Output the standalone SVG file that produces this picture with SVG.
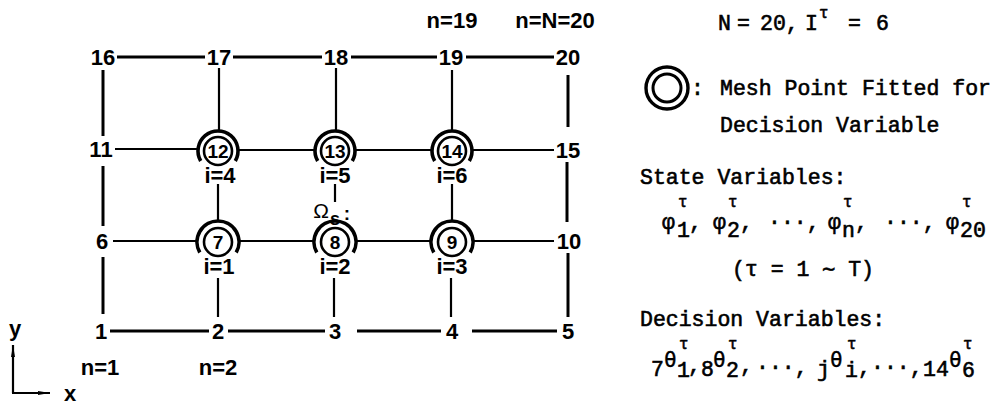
<svg xmlns="http://www.w3.org/2000/svg" width="995" height="405" viewBox="0 0 995 405">
<defs>
<style>
.bg{fill:#fff}
.ln{stroke:#000;stroke-width:2.2;fill:none;stroke-linecap:butt}
.lt{stroke:#000;stroke-width:3;fill:none}
.lbl{font-family:"Liberation Sans",Arial,sans-serif;font-size:22px;font-weight:bold;text-anchor:middle;fill:#000}
.in{font-family:"Liberation Sans",Arial,sans-serif;font-size:19px;font-weight:bold;text-anchor:middle;fill:#000}
.ring{stroke:#000;stroke-width:3.6;fill:none}
.iring{stroke:#000;stroke-width:2.6;fill:none}
.mono{font-family:"Liberation Mono","Courier New",monospace;font-size:21.5px;fill:#000;stroke:#000;stroke-width:0.6}
.sup{font-family:"Liberation Mono","Courier New",monospace;font-size:16px;fill:#000;stroke:#000;stroke-width:0.5}
.th{font-family:"DejaVu Sans Mono",monospace;font-size:21px;fill:#000;stroke:#000;stroke-width:0.4}
</style>
<marker id="ah" viewBox="0 0 12 6" refX="12" refY="3" markerWidth="12" markerHeight="6" markerUnits="userSpaceOnUse" orient="auto">
<path d="M0,1 L12,3 L0,5 Z" fill="#000"/>
</marker>
</defs>
<rect class="bg" x="0" y="0" width="995" height="405"/>

<g id="connectors">
<line class="lt" x1="117" y1="57" x2="205" y2="57"/>
<line class="lt" x1="233" y1="57" x2="322" y2="57"/>
<line class="lt" x1="351" y1="57" x2="437" y2="57"/>
<line class="lt" x1="466" y1="57" x2="554" y2="57"/>
<line class="ln" x1="115" y1="149" x2="197" y2="149"/>
<line class="ln" x1="238" y1="150" x2="315" y2="150"/>
<line class="ln" x1="355" y1="150" x2="432" y2="150"/>
<line class="ln" x1="472" y1="150" x2="554" y2="150"/>
<line class="ln" x1="113" y1="241" x2="197" y2="241"/>
<line class="ln" x1="239" y1="241" x2="314" y2="241"/>
<line class="ln" x1="356" y1="241" x2="431" y2="241"/>
<line class="ln" x1="473" y1="241" x2="554" y2="241"/>
<line class="lt" x1="110" y1="331" x2="209" y2="331"/>
<line class="lt" x1="228" y1="331" x2="325" y2="331"/>
<line class="lt" x1="357" y1="331" x2="441" y2="331"/>
<line class="lt" x1="472" y1="331" x2="557" y2="331"/>
<line class="lt" x1="103" y1="70" x2="103" y2="136"/>
<line class="lt" x1="103" y1="166" x2="103" y2="226"/>
<line class="lt" x1="103" y1="257" x2="103" y2="314"/>
<line class="ln" x1="219" y1="68" x2="219" y2="131"/>
<line class="ln" x1="218" y1="184" x2="218" y2="221"/>
<line class="ln" x1="218" y1="278" x2="218" y2="317"/>
<line class="ln" x1="336" y1="68" x2="336" y2="131"/>
<line class="ln" x1="335" y1="184" x2="335" y2="202"/>
<line class="ln" x1="334" y1="278" x2="334" y2="317"/>
<line class="ln" x1="452" y1="70" x2="452" y2="130"/>
<line class="ln" x1="452" y1="184" x2="452" y2="220"/>
<line class="ln" x1="451" y1="278" x2="451" y2="317"/>
<line class="lt" x1="568" y1="75" x2="568" y2="127"/>
<line class="lt" x1="567" y1="162" x2="567" y2="222"/>
<line class="lt" x1="568" y1="253" x2="568" y2="317"/>
</g>

<g id="n1"><text class="lbl" x="101" y="339">1</text></g>
<g id="n2"><text class="lbl" x="218" y="339">2</text></g>
<g id="n3"><text class="lbl" x="335" y="339">3</text></g>
<g id="n4"><text class="lbl" x="452" y="339">4</text></g>
<g id="n5"><text class="lbl" x="568" y="339">5</text></g>
<g id="n6"><text class="lbl" x="102" y="249">6</text></g>
<g id="n10"><text class="lbl" x="569" y="249">10</text></g>
<g id="n11"><text class="lbl" x="101" y="157">11</text></g>
<g id="n15"><text class="lbl" x="568" y="158">15</text></g>
<g id="n16"><text class="lbl" x="103" y="65">16</text></g>
<g id="n17"><text class="lbl" x="219" y="65">17</text></g>
<g id="n18"><text class="lbl" x="336" y="65">18</text></g>
<g id="n19"><text class="lbl" x="451" y="65">19</text></g>
<g id="n20"><text class="lbl" x="568" y="65">20</text></g>

<g id="n7">
<path class="ring" d="M199.8,252.5 A21,21 0 1 1 236.2,252.5"/>
<circle class="iring" cx="218" cy="242" r="14"/>
<text class="in" x="218" y="249">7</text>
<text class="lbl" x="219" y="274">i=1</text>
</g>
<g id="n8">
<path class="ring" d="M316.8,252.5 A21,21 0 1 1 353.2,252.5"/>
<circle class="iring" cx="335" cy="242" r="14"/>
<text class="in" x="335" y="249">8</text>
<text class="lbl" x="335" y="274">i=2</text>
</g>
<g id="n9">
<path class="ring" d="M433.8,252.5 A21,21 0 1 1 470.2,252.5"/>
<circle class="iring" cx="452" cy="242" r="14"/>
<text class="in" x="452" y="249">9</text>
<text class="lbl" x="452" y="274">i=3</text>
</g>
<g id="n12">
<path class="ring" d="M200.7,161 A20,20 0 1 1 235.3,161"/>
<circle class="iring" cx="218" cy="151" r="14"/>
<text class="in" x="218" y="158">12</text>
<text class="lbl" x="220" y="183">i=4</text>
</g>
<g id="n13">
<path class="ring" d="M317.7,161 A20,20 0 1 1 352.3,161"/>
<circle class="iring" cx="335" cy="151" r="14"/>
<text class="in" x="335" y="158">13</text>
<text class="lbl" x="335" y="183">i=5</text>
</g>
<g id="n14">
<path class="ring" d="M434.7,161 A20,20 0 1 1 469.3,161"/>
<circle class="iring" cx="452" cy="151" r="14"/>
<text class="in" x="452" y="158">14</text>
<text class="lbl" x="452" y="183">i=6</text>
</g>

<g id="omega">
<text class="lbl" x="321" y="218" style="font-size:21px;font-weight:normal">Ω</text>
<text class="lbl" x="335" y="225" style="font-size:18px">s</text>
<text class="lbl" x="347" y="220" style="font-size:19px">:</text>
</g>

<g id="n-labels">
<text class="lbl" x="452" y="28">n=19</text>
<text class="lbl" x="555" y="28">n=N=20</text>
<text class="lbl" x="100" y="375">n=1</text>
<text class="lbl" x="218" y="375">n=2</text>
</g>

<g id="axes">
<line class="ln" x1="13" y1="393" x2="13" y2="345" marker-end="url(#ah)"/>
<line class="ln" x1="12" y1="393" x2="50" y2="393" marker-end="url(#ah)"/>
<text class="lbl" x="15" y="336">y</text>
<text class="lbl" x="70" y="401">x</text>
</g>

<g id="legend">
<text class="mono" x="718" y="30">N</text>
<text class="mono" x="737" y="30">=</text>
<text class="mono" x="760" y="30">20,</text>
<text class="mono" x="805" y="30">I</text>
<text class="sup" x="819" y="18">τ</text>
<text class="mono" x="848" y="30">=</text>
<text class="mono" x="876" y="30">6</text>

<circle cx="667" cy="88" r="21" stroke="#000" stroke-width="3.4" fill="none"/>
<circle cx="667" cy="88" r="14" stroke="#000" stroke-width="3" fill="none"/>
<text class="mono" x="691" y="95">:</text>
<text class="mono" x="720" y="95">Mesh Point Fitted for</text>
<text class="mono" x="720" y="132">Decision Variable</text>

<text class="mono" x="640" y="184">State Variables:</text>
<text class="mono" x="662" y="229">φ</text><text class="sup" x="678" y="207">τ</text><text class="mono" x="677" y="237">1</text><text class="mono" x="689" y="229">,</text>
<text class="mono" x="713" y="229">φ</text><text class="sup" x="728" y="207">τ</text><text class="mono" x="727" y="237">2</text><text class="mono" x="740" y="229">,</text>
<text class="mono" x="768" y="229">···,</text>
<text class="mono" x="828" y="229">φ</text><text class="sup" x="843" y="207">τ</text><text class="mono" x="842" y="237">n</text><text class="mono" x="855" y="229">,</text>
<text class="mono" x="884" y="229">···,</text>
<text class="mono" x="946" y="229">φ</text><text class="sup" x="962" y="207">τ</text><text class="mono" x="960" y="237">20</text>
<text class="mono" x="732" y="276">(τ = 1 ∼ T)</text>

<text class="mono" x="640" y="326">Decision Variables:</text>
<text class="mono" x="651" y="376">7</text><text class="th" x="664" y="367">θ</text><text class="sup" x="679" y="349">τ</text><text class="mono" x="677" y="377">1</text><text class="mono" x="688" y="372">,</text>
<text class="mono" x="701" y="376">8</text><text class="th" x="713" y="367">θ</text><text class="sup" x="728" y="349">τ</text><text class="mono" x="726" y="377">2</text><text class="mono" x="740" y="372">,</text>
<text class="mono" x="756" y="374">···,</text>
<text class="mono" x="817" y="376">j</text><text class="th" x="830" y="367">θ</text><text class="sup" x="847" y="349">τ</text><text class="mono" x="845" y="377">i</text><text class="mono" x="858" y="374">,</text>
<text class="mono" x="871" y="374">···,</text>
<text class="mono" x="923" y="376">14</text><text class="th" x="949" y="367">θ</text><text class="sup" x="963" y="349">τ</text><text class="mono" x="962" y="377">6</text>
</g>
</svg>
